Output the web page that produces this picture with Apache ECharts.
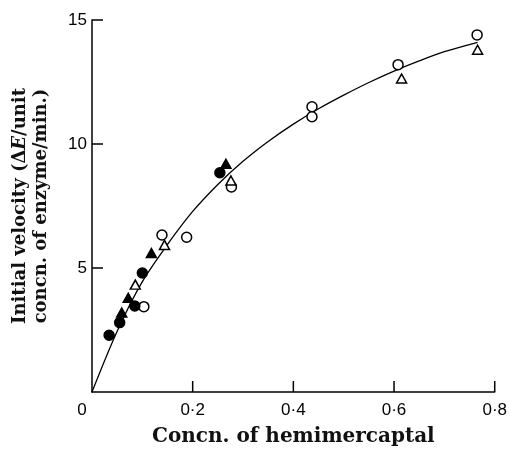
<!DOCTYPE html>
<html style="height: 100%">
<head>
    <meta charset="utf-8" />
    <title>Initial velocity vs hemimercaptal</title>
    <script type="text/javascript" src="https://cdn.jsdelivr.net/npm/echarts@6/dist/echarts.min.js"></script>
</head>
<body style="height: 100%; margin: 0; background: #fff">
    <div id="container" style="width: 510px; height: 452px"></div>
</body>
</html>
<script type="text/javascript">
    // tick labels
    var xTicks = [0, 0.2, 0.4, 0.6, 0.8];
    var xTickLabels = ['0', '0·2', '0·4', '0·6', '0·8'];
    var yTicks = [0, 5, 10, 15];

    // measured points, [concn, velocity]
    var openCircles = [[0.103, 3.44], [0.139, 6.33], [0.188, 6.24], [0.277, 8.27],
        [0.437, 11.5], [0.437, 11.1], [0.608, 13.2], [0.765, 14.4]];
    var openTriangles = [[0.086, 4.33], [0.144, 5.93], [0.276, 8.53], [0.615, 12.64], [0.766, 13.8]];
    var filledCircles = [[0.034, 2.29], [0.055, 2.8], [0.085, 3.47], [0.100, 4.8], [0.254, 8.84]];
    var filledTriangles = [[0.059, 3.2], [0.072, 3.8], [0.118, 5.6], [0.266, 9.2]];

    // drawn curve
    var curveX = [0, 0.05, 0.1, 0.15, 0.2, 0.25, 0.3, 0.35, 0.4, 0.45, 0.5, 0.55, 0.6, 0.65, 0.7, 0.766];
    var curveY = [0, 2.45, 4.45, 5.95, 7.28, 8.37, 9.3, 10.1, 10.8, 11.42, 11.97, 12.48, 12.94, 13.35, 13.72, 14.1];

    var serif = '"DejaVu Serif", "Liberation Serif", serif';
    var sans = '"Liberation Sans Narrow", "Liberation Sans", sans-serif';

    var dom = document.getElementById("container");
    var myChart = echarts.init(dom);

    function scatter(data, symbol, filled) {
        return {
            type: 'scatter',
            data: data,
            symbol: symbol,
            symbolSize: symbol == 'circle' ? 10 : [10, 9],
            itemStyle: {
                color: filled ? '#000' : '#fff',
                borderColor: '#000',
                borderWidth: 1.5,
                opacity: 1
            },
            z: 3
        };
    }

    // inward ticks, drawn at the tick values through the axes' own scale
    function ticks(data, vertical) {
        return {
            type: 'custom',
            data: data,
            silent: true,
            clip: false,
            renderItem: function (params, api) {
                var p = api.coord([api.value(0), api.value(1)]);
                return {
                    type: 'line',
                    shape: vertical
                        ? { x1: p[0], y1: p[1], x2: p[0], y2: p[1] - 11 }
                        : { x1: p[0], y1: p[1], x2: p[0] + 11, y2: p[1] },
                    style: { stroke: '#000', lineWidth: 1.5 }
                };
            },
            z: 4
        };
    }

    var option = {
        backgroundColor: '#fff',
        animation: false,
        grid: { left: 92, right: 13, top: 20, bottom: 57 },
        xAxis: {
            type: 'value',
            min: 0,
            max: 0.8,
            interval: 0.2,
            name: 'Concn. of hemimercaptal',
            nameLocation: 'middle',
            nameGap: 35,
            nameTextStyle: { fontFamily: serif, fontSize: 20, fontWeight: 'bold', color: '#111' },
            axisLine: { lineStyle: { color: '#000', width: 1.5 } },
            axisTick: { show: false },
            splitLine: { show: false },
            axisLabel: {
                margin: 10,
                fontFamily: sans,
                fontSize: 17,
                color: '#000',
                formatter: function (v) {
                    var i = xTicks.findIndex(t => Math.abs(t - v) < 1e-6);
                    if (i == 0) return '{z|' + xTickLabels[0] + '}';
                    return i < 0 ? '' : xTickLabels[i];
                },
                rich: { z: { padding: [0, 20, 0, 0], fontFamily: sans, fontSize: 17, color: '#000' } }
            }
        },
        yAxis: {
            type: 'value',
            min: 0,
            max: 15,
            interval: 5,
            name: 'Initial velocity (Δ{i|E}/unit\nconcn. of enzyme/min.)',
            nameLocation: 'middle',
            nameRotate: 90,
            nameGap: 40,
            nameTextStyle: {
                fontFamily: serif, fontSize: 18, fontWeight: 'bold', color: '#111', lineHeight: 21,
                rich: { i: { fontFamily: serif, fontSize: 18, fontWeight: 'bold', fontStyle: 'italic', color: '#111' } }
            },
            axisLine: { show: true, lineStyle: { color: '#000', width: 1.5 } },
            axisTick: { show: false },
            splitLine: { show: false },
            axisLabel: {
                margin: 5,
                fontFamily: sans,
                fontSize: 17,
                color: '#000',
                formatter: function (v) {
                    return v == yTicks[0] ? '' : String(v);
                }
            }
        },
        series: [
            {
                type: 'line',
                data: curveX.map((x, i) => [x, curveY[i]]),
                smooth: 0.3,
                showSymbol: false,
                lineStyle: { color: '#000', width: 1.3 },
                z: 2
            },
            scatter(openCircles, 'circle', false),
            scatter(openTriangles, 'triangle', false),
            scatter(filledCircles, 'circle', true),
            scatter(filledTriangles, 'triangle', true),
            ticks(xTicks.slice(1).map(v => [v, 0]), true),
            ticks(yTicks.slice(1).map(v => [0, v]), false)
        ]
    };
    myChart.setOption(option);
</script>
